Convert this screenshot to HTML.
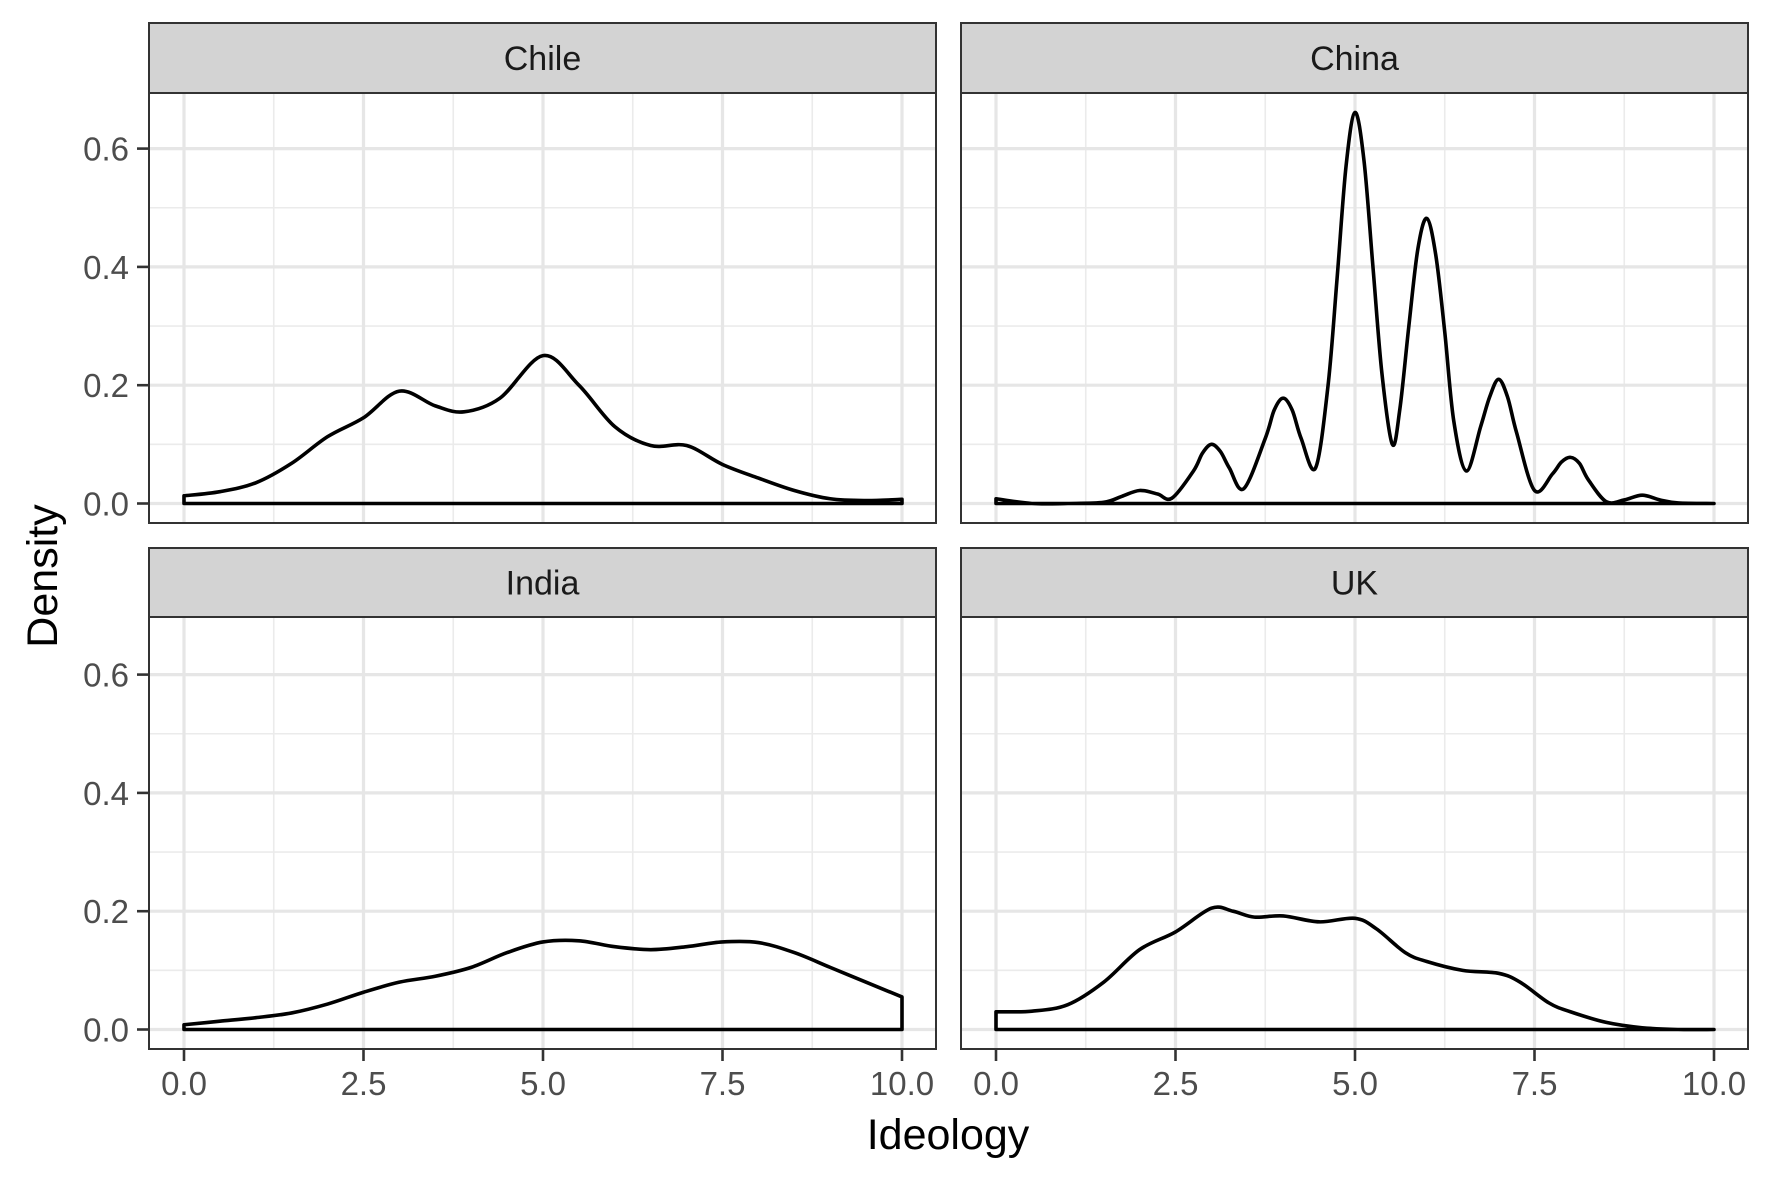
<!DOCTYPE html>
<html><head><meta charset="utf-8"><style>
html,body{margin:0;padding:0;background:#fff;}
svg{display:block;font-family:"Liberation Sans",Arial,sans-serif;}
</style></head><body>
<svg id="chart" width="1771" height="1181" viewBox="0 0 1771 1181" xmlns="http://www.w3.org/2000/svg">
<rect width="1771" height="1181" fill="#fff"/>
<text x="948" y="1149" font-size="43" text-anchor="middle" fill="#000">Ideology</text>
<text transform="translate(57,576) rotate(-90)" font-size="43" text-anchor="middle" fill="#000">Density</text>
</svg>
<script>
const facets = ["Chile","China","India","UK"];
const xTicks = [0,2.5,5,7.5,10];
const xTickLabels = ["0.0","2.5","5.0","7.5","10.0"];
const yTicks = [0,0.2,0.4,0.6];
const yTickLabels = ["0.0","0.2","0.4","0.6"];
const chileX = [0,0.5,1,1.5,2,2.5,3,3.5,3.9,4.4,5,5.5,6,6.5,7,7.5,8,8.5,9,9.5,10];
const chileY = [0.013,0.02,0.035,0.068,0.113,0.145,0.19,0.165,0.155,0.178,0.25,0.2,0.13,0.098,0.098,0.066,0.043,0.022,0.008,0.005,0.007];
const chinaX = [0,0.5,1,1.5,1.75,2,2.25,2.45,2.75,2.875,3,3.125,3.25,3.45,3.75,3.875,4,4.125,4.25,4.45,4.625,4.75,4.875,5,5.125,5.25,5.375,5.52,5.625,5.75,5.875,6,6.125,6.25,6.375,6.55,6.75,6.875,7,7.125,7.25,7.5,7.75,7.875,8,8.125,8.25,8.5,8.75,9,9.25,9.5,10];
const chinaY = [0.008,0.0,0.0,0.002,0.012,0.022,0.016,0.009,0.055,0.085,0.1,0.088,0.06,0.025,0.11,0.158,0.178,0.158,0.11,0.06,0.2,0.38,0.57,0.661,0.58,0.4,0.22,0.1,0.16,0.3,0.43,0.482,0.42,0.29,0.14,0.055,0.13,0.18,0.21,0.18,0.12,0.022,0.05,0.07,0.078,0.068,0.04,0.003,0.006,0.014,0.006,0.001,0.0];
const indiaX = [0,0.5,1,1.5,2,2.5,3,3.5,4,4.5,5,5.5,6,6.5,7,7.5,8,8.5,9,9.5,10];
const indiaY = [0.008,0.014,0.02,0.028,0.043,0.063,0.08,0.09,0.105,0.13,0.148,0.15,0.14,0.135,0.14,0.148,0.147,0.13,0.105,0.08,0.055];
const ukX = [0,0.5,1,1.5,2,2.5,3,3.3,3.6,4,4.5,5,5.3,5.7,6,6.5,7,7.3,7.7,8,8.5,9,9.5,10];
const ukY = [0.03,0.031,0.042,0.08,0.135,0.165,0.205,0.2,0.19,0.192,0.182,0.188,0.17,0.13,0.115,0.1,0.095,0.08,0.045,0.03,0.012,0.003,0.0,0.0];
const seriesX = [chileX,chinaX,indiaX,ukX];
const seriesY = [chileY,chinaY,indiaY,ukY];

const NS="http://www.w3.org/2000/svg";
const svg=document.getElementById('chart');
const panels=[{l:149,r:936,st:23,pt:93,pb:523},{l:961,r:1748,st:23,pt:93,pb:523},
              {l:149,r:936,st:548,pt:617,pb:1049},{l:961,r:1748,st:548,pt:617,pb:1049}];
function mk(tag,attrs,parent){const e=document.createElementNS(NS,tag);for(const k in attrs)e.setAttribute(k,attrs[k]);(parent||svg).appendChild(e);return e;}
function spline(pts){let d="";for(let i=0;i<pts.length-1;i++){const p0=pts[Math.max(0,i-1)],p1=pts[i],p2=pts[i+1],p3=pts[Math.min(pts.length-1,i+2)];const c1=[p1[0]+(p2[0]-p0[0])/6,p1[1]+(p2[1]-p0[1])/6],c2=[p2[0]-(p3[0]-p1[0])/6,p2[1]-(p3[1]-p1[1])/6];d+=" C"+c1[0].toFixed(2)+","+c1[1].toFixed(2)+" "+c2[0].toFixed(2)+","+c2[1].toFixed(2)+" "+p2[0].toFixed(2)+","+p2[1].toFixed(2);}return d;}
panels.forEach((p,i)=>{
  const g=mk('g',{});
  
  
  const x0=p.l+35, xs=71.8; const y0=p.pb-19.5, ys=591.5;
  const X=v=>x0+v*xs, Y=v=>y0-v*ys;
  [1.25,3.75,6.25,8.75].forEach(v=>{const l=mk('line',{x1:X(v),x2:X(v),y1:p.pt,y2:p.pb,stroke:'#ebebeb','stroke-width':1.6},g);});
  [0.1,0.3,0.5].forEach(v=>{const l=mk('line',{x1:p.l,x2:p.r,y1:Y(v),y2:Y(v),stroke:'#ebebeb','stroke-width':1.6},g);});
  xTicks.forEach(v=>{const l=mk('line',{x1:X(v),x2:X(v),y1:p.pt,y2:p.pb,stroke:'#e6e6e6','stroke-width':3.2},g);});
  yTicks.forEach(v=>{const l=mk('line',{x1:p.l,x2:p.r,y1:Y(v),y2:Y(v),stroke:'#e6e6e6','stroke-width':3.2},g);});
  const xs_=seriesX[i], ys_=seriesY[i];
  const pts=xs_.map((x,k)=>[X(x),Y(ys_[k])]);
  let d="M"+X(xs_[0])+","+Y(0)+" L"+pts[0][0]+","+pts[0][1]+spline(pts);
  d+=" L"+X(xs_[xs_.length-1])+","+Y(0)+" Z";
  const path=mk('path',{d:d,fill:'none',stroke:'#000','stroke-width':3.6,'stroke-linejoin':'round'},g);
  
  
  const b=mk('rect',{x:p.l,y:p.pt,width:p.r-p.l,height:p.pb-p.pt,fill:'none',stroke:'#333','stroke-width':2},g);
  
  
  const s=mk('rect',{x:p.l,y:p.st,width:p.r-p.l,height:p.pt-p.st,fill:'#d3d3d3',stroke:'#333','stroke-width':2},g);
  
  
  const st=mk('text',{x:(p.l+p.r)/2,y:(p.st+p.pt)/2+12,'font-size':34,'text-anchor':'middle',fill:'#1a1a1a'},g);
  st.textContent=facets[i];
  
  
  if(i===0||i===2){
    yTicks.forEach((v,k)=>{
      const t=mk('line',{x1:p.l-12,x2:p.l,y1:Y(v),y2:Y(v),stroke:'#333','stroke-width':2.6},g);
      
      
      const tx=mk('text',{x:p.l-20,y:Y(v)+12,'font-size':33,'text-anchor':'end',fill:'#4d4d4d'},g);
      tx.textContent=yTickLabels[k];
      
      
    });
  }
  if(i>=2){
    xTicks.forEach((v,k)=>{
      const t=mk('line',{x1:X(v),x2:X(v),y1:p.pb,y2:p.pb+12,stroke:'#333','stroke-width':2.6},g);
      
      
      const tx=mk('text',{x:X(v),y:p.pb+46,'font-size':33,'text-anchor':'middle',fill:'#4d4d4d'},g);
      tx.textContent=xTickLabels[k];
      
      
    });
  }
});
</script>
</body></html>
